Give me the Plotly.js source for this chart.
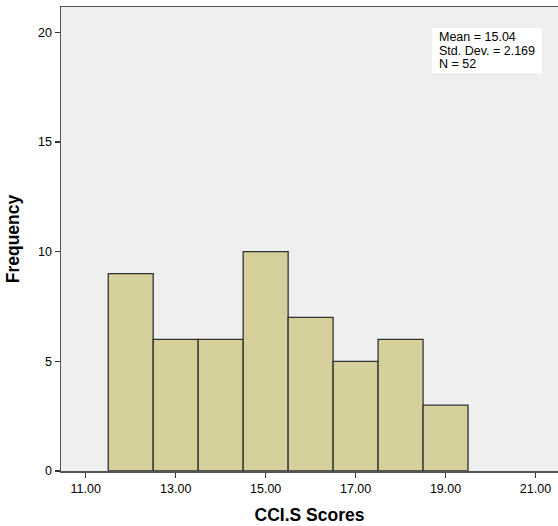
<!DOCTYPE html>
<html><head><meta charset="utf-8">
<script src="https://cdn.plot.ly/plotly-3.0.1.min.js"></script>
<style>body{margin:0;background:#fff}#c{width:558px;height:526px}</style>
</head><body><div id="c"></div>
<script>
const binCenters = [12, 13, 14, 15, 16, 17, 18, 19];
const frequencies = [9, 6, 6, 10, 7, 5, 6, 3];
const xTickVals = [11, 13, 15, 17, 19, 21];
const yTickVals = [0, 5, 10, 15, 20];
const statsLines = ["Mean = 15.04", "Std. Dev. = 2.169", "N = 52"];

const trace = {
  type: 'bar',
  x: binCenters,
  y: frequencies,
  width: binCenters.map(() => 1),
  marker: {color: '#d4cf9b', line: {color: '#333333', width: 1.3}},
  hoverinfo: 'x+y'
};
// plot area: 61..558 px wide (497), 7..471 px tall (464)
const pw = 497, ph = 464;
const px = v => (v - 61) / pw;
const py = v => (471 - v) / ph;
const lineCenters = [37.5, 50.5, 63.5];
const layout = {
  width: 558, height: 526,
  margin: {l: 61, r: 0, t: 7, b: 55},
  paper_bgcolor: '#ffffff',
  plot_bgcolor: '#efefef',
  font: {family: 'Liberation Sans, Arial, sans-serif', color: '#000'},
  showlegend: false,
  bargap: 0,
  xaxis: {
    range: [10.45, 21.5],
    tickvals: xTickVals,
    ticktext: xTickVals.map(v => v.toFixed(2)),
    ticks: 'outside', ticklen: 5, tickwidth: 1.2, tickcolor: '#333',
    showgrid: false, zeroline: false,
    showline: true, linecolor: '#555', linewidth: 1.5, mirror: true,
    tickfont: {size: 12.5, color: '#000'},
    title: {text: '<b>CCI.S Scores</b>', font: {size: 17.5, color: '#000'}, standoff: 14}
  },
  yaxis: {
    range: [0, 21.15],
    tickvals: yTickVals,
    ticks: 'outside', ticklen: 5, tickwidth: 1.2, tickcolor: '#333',
    showgrid: false, zeroline: false,
    showline: true, linecolor: '#555', linewidth: 1.5, mirror: true,
    tickfont: {size: 12.5, color: '#000'},
    title: {text: '<b>Frequency</b>', font: {size: 17.5, color: '#000'}, standoff: 14}
  },
  shapes: [{
    type: 'rect', xref: 'paper', yref: 'paper',
    x0: px(432), x1: px(542), y0: py(73), y1: py(28),
    fillcolor: '#ffffff', line: {width: 0}, layer: 'above'
  }],
  annotations: statsLines.map((t, i) => ({
    xref: 'paper', yref: 'paper', x: px(437), y: py(lineCenters[i]),
    xanchor: 'left', yanchor: 'middle', align: 'left', showarrow: false,
    text: t, font: {size: 12.5, color: '#000'}
  }))
};
Plotly.newPlot('c', [trace], layout, {displayModeBar: false, staticPlot: true});
</script></body></html>
